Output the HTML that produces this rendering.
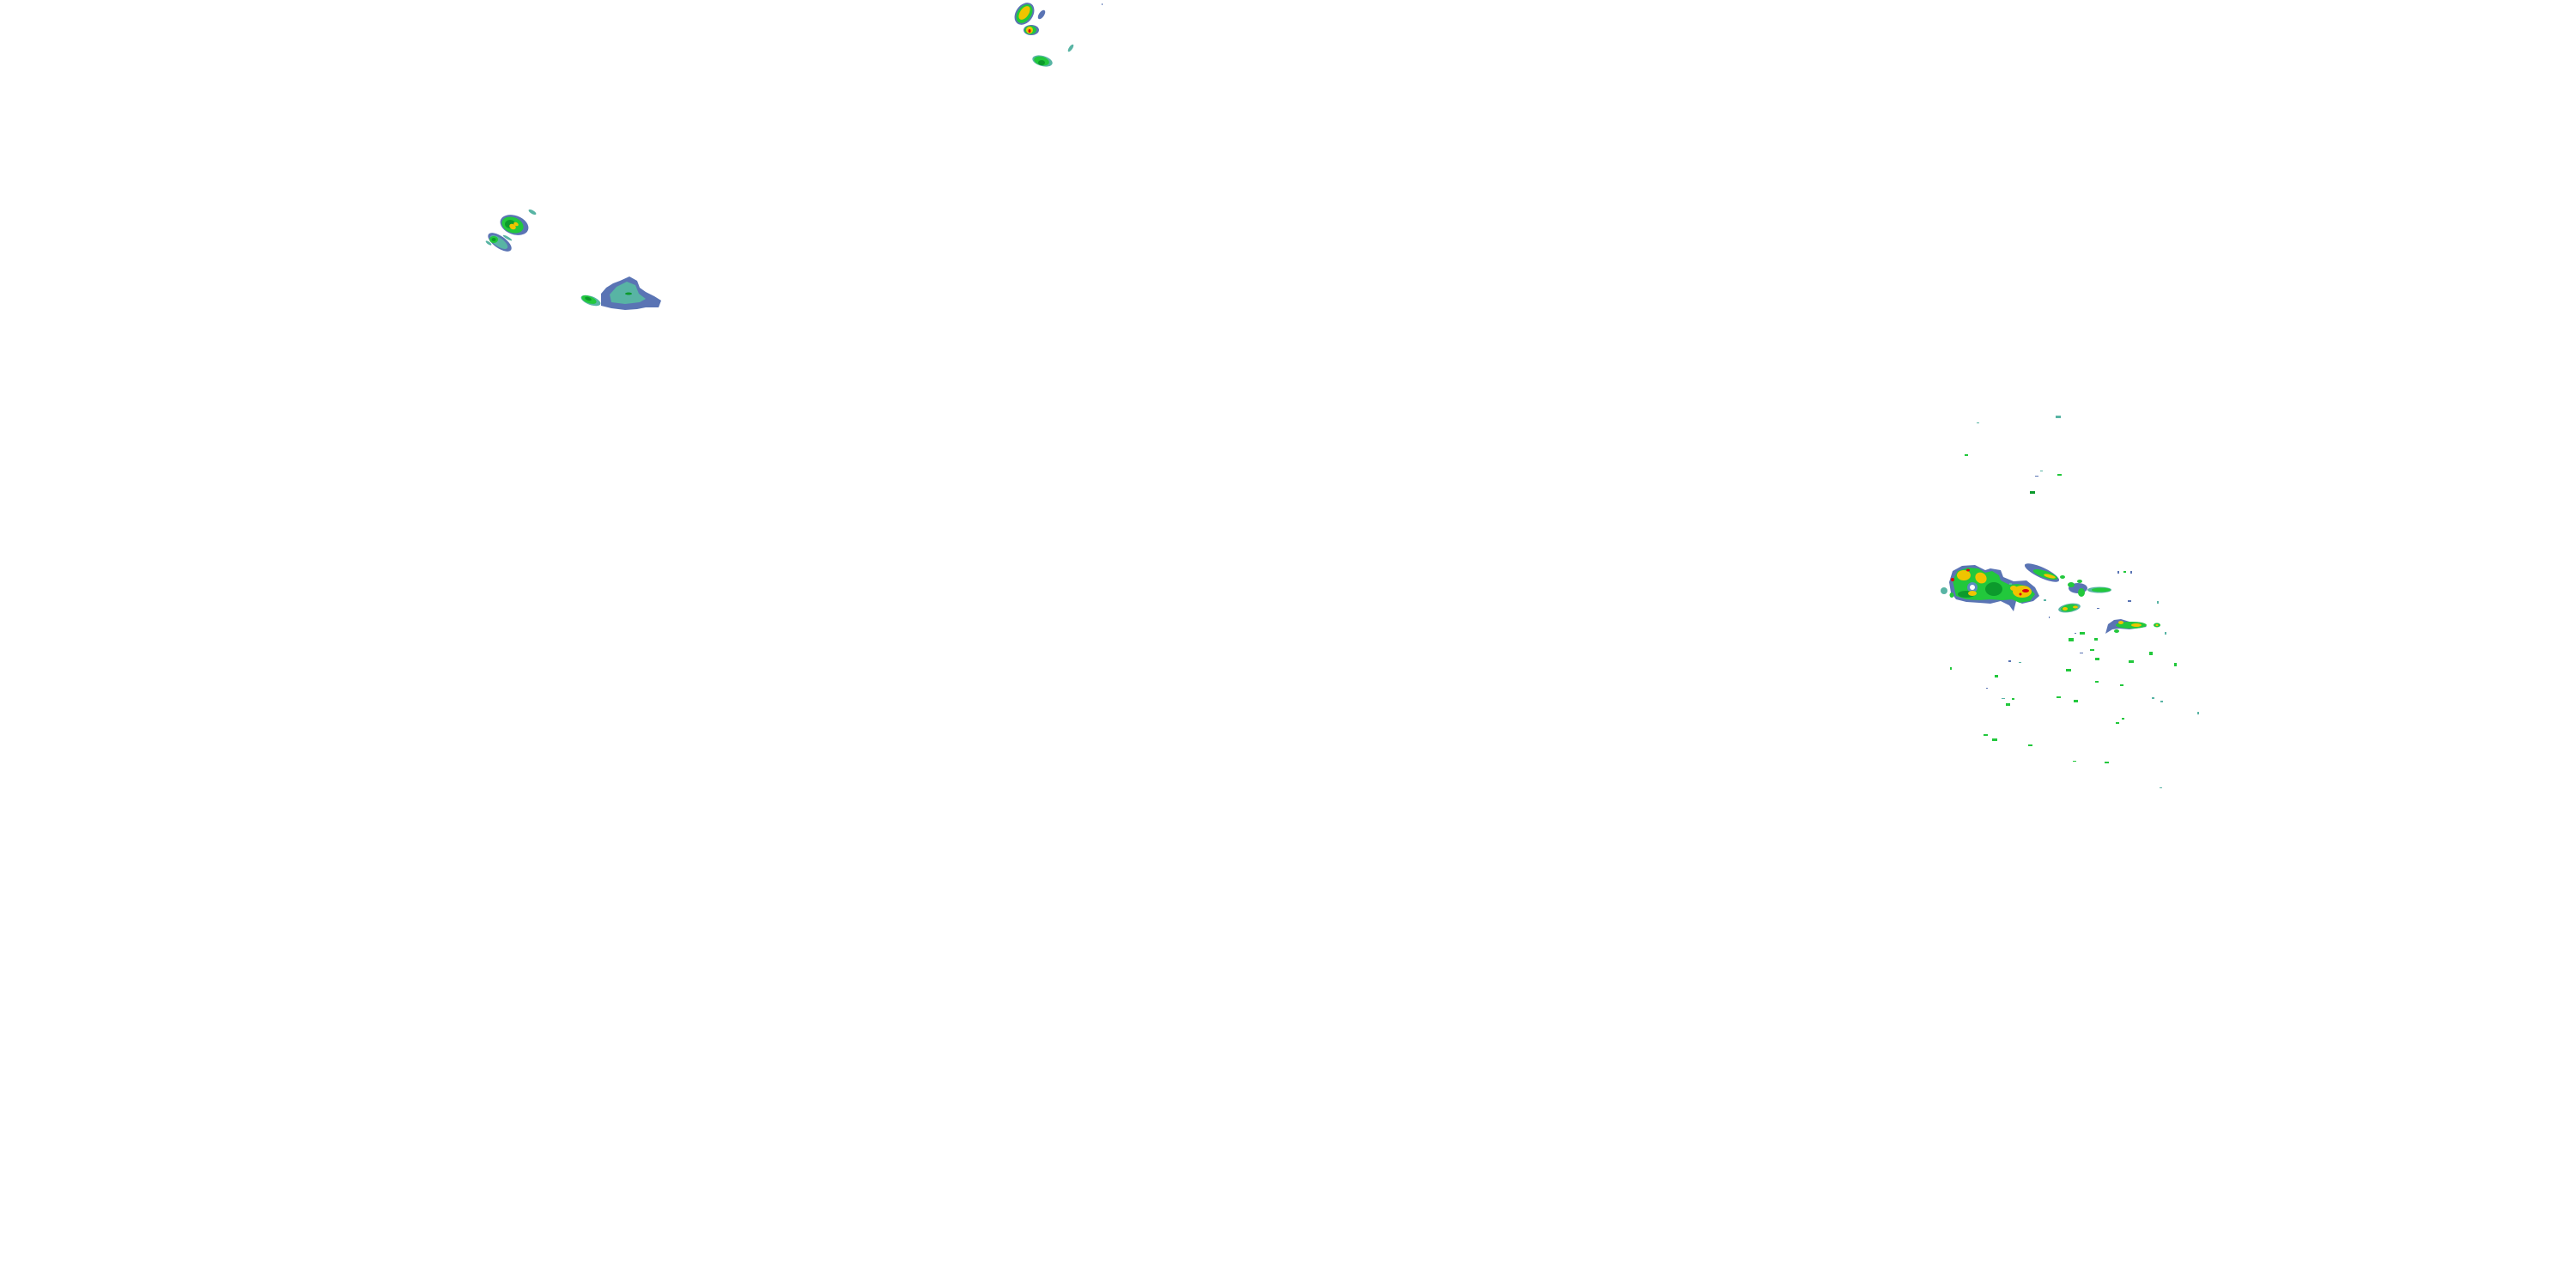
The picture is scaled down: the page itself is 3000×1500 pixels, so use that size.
<!DOCTYPE html>
<html><head><meta charset="utf-8"><style>html,body{margin:0;padding:0;background:#fff}svg{display:block}</style></head>
<body>
<svg width="3000" height="1500" viewBox="0 0 3000 1500" xmlns="http://www.w3.org/2000/svg">
<defs>
<style>
.b{fill:#5a74b4}.t{fill:#58b4a4}.g{fill:#22c83c}.d{fill:#0c9a2c}.y{fill:#f0c400}.o{fill:#f09a00}.r{fill:#e00010}
</style>
</defs>
<!-- top center group -->
<ellipse class="b" cx="1193" cy="16" rx="10" ry="14" transform="rotate(35 1193 16)"/>
<ellipse class="g" cx="1193" cy="16" rx="8" ry="12" transform="rotate(35 1193 16)"/>
<ellipse class="y" cx="1193" cy="15" rx="5" ry="9" transform="rotate(35 1193 15)"/>
<ellipse class="b" cx="1201" cy="35" rx="9" ry="6"/>
<ellipse class="g" cx="1200" cy="35" rx="7" ry="5"/>
<ellipse class="y" cx="1199" cy="35" rx="4" ry="4"/>
<ellipse class="r" cx="1199" cy="36" rx="1.5" ry="2"/>
<ellipse class="b" cx="1213" cy="17" rx="3" ry="6" transform="rotate(35 1213 17)"/>
<ellipse class="t" cx="1214" cy="71" rx="12" ry="6" transform="rotate(15 1214 71)"/>
<ellipse class="g" cx="1213" cy="71" rx="9" ry="5" transform="rotate(15 1213 71)"/>
<ellipse class="d" cx="1213" cy="73" rx="4" ry="3"/>
<ellipse class="t" cx="1247" cy="56" rx="2" ry="5" transform="rotate(35 1247 56)"/>
<rect class="b" x="1283" y="4" width="1" height="2"/>
<!-- left upper group -->
<ellipse class="b" cx="599" cy="262" rx="17" ry="11" transform="rotate(20 599 262)"/>
<ellipse class="g" cx="597" cy="262" rx="13" ry="9" transform="rotate(20 597 262)"/>
<ellipse class="d" cx="594" cy="261" rx="6" ry="5"/>
<ellipse class="y" cx="597" cy="264" rx="4" ry="3" transform="rotate(30 597 264)"/>
<ellipse class="y" cx="601" cy="261" rx="3" ry="2" transform="rotate(30 601 261)"/>
<ellipse class="t" cx="620" cy="247" rx="5" ry="2" transform="rotate(30 620 247)"/>
<ellipse class="b" cx="582" cy="282" rx="16" ry="7" transform="rotate(35 582 282)"/>
<ellipse class="t" cx="581" cy="282" rx="12" ry="5" transform="rotate(35 581 282)"/>
<ellipse class="g" cx="575" cy="279" rx="5" ry="4"/>
<ellipse class="d" cx="575" cy="279" rx="2.5" ry="2"/>
<ellipse class="t" cx="591" cy="277" rx="6" ry="1.5" transform="rotate(30 591 277)"/>
<ellipse class="t" cx="569" cy="283" rx="4" ry="1.5" transform="rotate(35 569 283)"/>
<!-- left big blob -->
<path class="b" d="M700 342 L706 335 L714 330 L722 327 L733 322 L742 327 L745 335 L752 340 L762 345 L770 350 L767 358 L752 358 L742 360 L728 361 L712 359 L700 356 Z"/>
<path class="t" d="M710 343 L718 334 L730 328 L740 332 L744 342 L752 348 L745 352 L728 354 L712 352 Z"/>
<ellipse class="d" cx="732" cy="342" rx="4" ry="1.5"/>
<ellipse class="t" cx="688" cy="350" rx="12" ry="5" transform="rotate(20 688 350)"/>
<ellipse class="g" cx="686" cy="349" rx="9" ry="4" transform="rotate(20 686 349)"/>
<ellipse class="d" cx="685" cy="348" rx="4" ry="2" transform="rotate(20 685 348)"/>
<!-- right main cluster -->
<path class="b" d="M2270 678 L2274 665 L2285 659 L2300 658 L2312 664 L2318 662 L2330 664 L2333 672 L2345 677 L2360 676 L2370 684 L2375 694 L2368 700 L2355 703 L2348 700 L2345 712 L2340 705 L2330 700 L2318 703 L2305 702 L2290 701 L2278 698 L2272 690 Z"/>
<path class="g" d="M2274 676 L2280 665 L2292 661 L2304 662 L2312 667 L2320 665 L2328 670 L2330 676 L2340 681 L2350 680 L2362 683 L2370 692 L2364 700 L2352 702 L2343 698 L2332 699 L2318 698 L2305 699 L2290 698 L2278 694 Z"/>
<ellipse fill="#5a8cc0" cx="2297" cy="684" rx="6" ry="6"/>
<ellipse fill="#ffffff" cx="2297" cy="684" rx="3" ry="3"/>
<ellipse class="d" cx="2322" cy="686" rx="10" ry="8"/>
<ellipse class="d" cx="2290" cy="692" rx="10" ry="4"/>
<ellipse class="y" cx="2287" cy="670" rx="8" ry="6"/>
<ellipse class="y" cx="2307" cy="673" rx="7" ry="6" transform="rotate(40 2307 673)"/>
<ellipse class="y" cx="2297" cy="691" rx="5" ry="3"/>
<ellipse class="y" cx="2355" cy="689" rx="11" ry="7"/>
<ellipse class="y" cx="2345" cy="685" rx="4" ry="3"/>
<ellipse class="r" cx="2359" cy="688" rx="4" ry="2"/>
<ellipse class="r" cx="2353" cy="692" rx="1.5" ry="1.5"/>
<ellipse class="r" cx="2274" cy="675" rx="2" ry="2"/>
<ellipse class="r" cx="2292" cy="664" rx="2" ry="1.5"/>
<ellipse class="t" cx="2264" cy="688" rx="4" ry="4"/>
<ellipse class="g" cx="2273" cy="693" rx="2.5" ry="3"/>
<!-- NE feature -->
<ellipse class="b" cx="2378" cy="667" rx="22" ry="6" transform="rotate(25 2378 667)"/>
<ellipse class="g" cx="2382" cy="669" rx="15" ry="4" transform="rotate(18 2382 669)"/>
<ellipse class="y" cx="2387" cy="671" rx="7" ry="2" transform="rotate(15 2387 671)"/>
<ellipse class="g" cx="2402" cy="672" rx="3" ry="2"/>
<ellipse class="b" cx="2420" cy="685" rx="11" ry="6"/>
<ellipse class="g" cx="2412" cy="681" rx="4" ry="3"/>
<ellipse class="g" cx="2424" cy="690" rx="4" ry="5"/>
<ellipse class="g" cx="2422" cy="677" rx="3" ry="2"/>
<ellipse class="t" cx="2445" cy="687" rx="14" ry="3.5"/>
<ellipse class="g" cx="2447" cy="687" rx="11" ry="2.5"/>
<ellipse class="t" cx="2410" cy="708" rx="13" ry="5" transform="rotate(-10 2410 708)"/>
<ellipse class="g" cx="2410" cy="708" rx="10" ry="4" transform="rotate(-10 2410 708)"/>
<ellipse class="y" cx="2405" cy="709" rx="3" ry="2"/>
<ellipse class="y" cx="2417" cy="707" rx="3" ry="1.5"/>
<!-- right band -->
<path class="b" d="M2452 738 L2455 727 L2462 722 L2470 721 L2480 724 L2495 725 L2500 730 L2480 733 L2468 732 L2460 733 Z"/>
<ellipse class="g" cx="2482" cy="728" rx="18" ry="4"/>
<ellipse class="y" cx="2488" cy="728" rx="6" ry="2"/>
<ellipse class="y" cx="2470" cy="725" rx="3" ry="2"/>
<ellipse class="g" cx="2465" cy="735" rx="3" ry="2"/>
<ellipse class="g" cx="2512" cy="728" rx="4" ry="2.5"/>
<ellipse class="y" cx="2512" cy="728" rx="1.5" ry="1"/>
<!-- scatter -->
<g>
<rect class="t" x="2394" y="484" width="6" height="3"/>
<rect class="t" x="2302" y="492" width="3" height="1"/>
<rect class="g" x="2288" y="529" width="4" height="2"/>
<rect class="t" x="2376" y="548" width="3" height="1"/>
<rect class="g" x="2396" y="552" width="5" height="2"/>
<rect class="b" x="2370" y="554" width="4" height="1"/>
<rect class="d" x="2364" y="572" width="6" height="3"/>
<rect class="g" x="2409" y="743" width="6" height="4"/>
<rect class="g" x="2422" y="736" width="6" height="3"/>
<rect class="g" x="2439" y="743" width="4" height="3"/>
<rect class="g" x="2434" y="756" width="5" height="2"/>
<rect class="g" x="2440" y="766" width="5" height="3"/>
<rect class="g" x="2479" y="769" width="6" height="3"/>
<rect class="g" x="2503" y="759" width="4" height="4"/>
<rect class="g" x="2532" y="772" width="3" height="4"/>
<rect class="g" x="2406" y="779" width="6" height="3"/>
<rect class="g" x="2323" y="786" width="4" height="3"/>
<rect class="b" x="2339" y="769" width="3" height="2"/>
<rect class="t" x="2351" y="771" width="3" height="1"/>
<rect class="g" x="2271" y="777" width="2" height="3"/>
<rect class="g" x="2440" y="793" width="4" height="2"/>
<rect class="g" x="2469" y="797" width="4" height="2"/>
<rect class="g" x="2336" y="819" width="5" height="3"/>
<rect class="g" x="2343" y="813" width="3" height="2"/>
<rect class="t" x="2331" y="813" width="4" height="1"/>
<rect class="g" x="2395" y="811" width="5" height="2"/>
<rect class="g" x="2415" y="815" width="5" height="3"/>
<rect class="t" x="2506" y="812" width="3" height="2"/>
<rect class="t" x="2516" y="816" width="3" height="2"/>
<rect class="g" x="2471" y="836" width="3" height="2"/>
<rect class="g" x="2464" y="841" width="4" height="2"/>
<rect class="t" x="2559" y="829" width="2" height="3"/>
<rect class="g" x="2310" y="855" width="5" height="2"/>
<rect class="g" x="2320" y="860" width="6" height="3"/>
<rect class="g" x="2362" y="867" width="5" height="2"/>
<rect class="g" x="2414" y="886" width="4" height="1"/>
<rect class="g" x="2451" y="887" width="5" height="2"/>
<rect class="t" x="2515" y="917" width="3" height="1"/>
<rect class="t" x="2521" y="736" width="2" height="3"/>
<rect class="b" x="2478" y="699" width="4" height="2"/>
<rect class="t" x="2512" y="700" width="2" height="3"/>
<rect class="b" x="2442" y="708" width="3" height="1"/>
<rect class="t" x="2380" y="698" width="3" height="2"/>
<rect class="b" x="2386" y="718" width="1" height="2"/>
<rect class="t" x="2340" y="679" width="3" height="2"/>
<rect class="b" x="2466" y="665" width="2" height="3"/>
<rect class="g" x="2473" y="665" width="3" height="2"/>
<rect class="b" x="2481" y="665" width="2" height="3"/>
<rect class="b" x="2416" y="737" width="2" height="1"/>
<rect class="b" x="2422" y="760" width="4" height="1"/>
<rect class="b" x="2313" y="801" width="2" height="1"/>
</g>
</svg>
</body></html>
